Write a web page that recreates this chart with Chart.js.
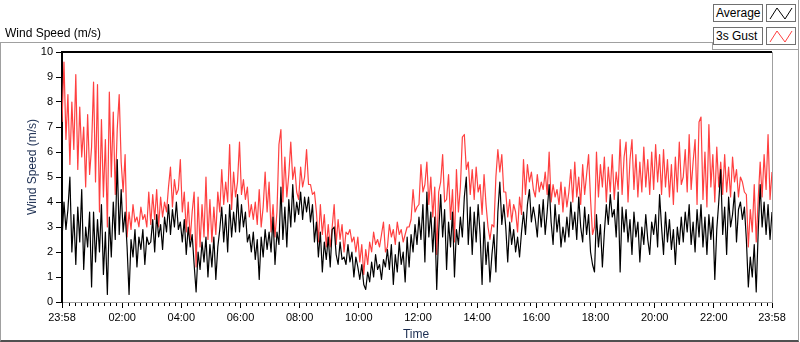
<!DOCTYPE html>
<html>
<head>
<meta charset="utf-8">
<script src="https://cdn.jsdelivr.net/npm/chart.js@4/dist/chart.umd.min.js"></script>
<style>
  html, body { margin: 0; padding: 0; background: #fff; }
  body { width: 800px; height: 342px; position: relative; overflow: hidden; font-family: "Liberation Sans", Arial, sans-serif; color: #000; }
  #chart { position: absolute; left: 0; top: 0; }
  .abs { position: absolute; }
  #frame { left: 0; top: 42px; width: 799px; height: 300px; box-sizing: border-box;
           border-top: 1px solid #a0a0a0; border-left: 1px solid #a0a0a0; border-right: 1px solid #a0a0a0; border-bottom: 2px solid #505050; }
  #legendPanel { left: 712px; top: 0; width: 86px; height: 49px; background: #fff;
                 border-right: 1px solid #a0a0a0; border-bottom: 1px solid #a0a0a0; }
  #legendStep { left: 712px; top: 42px; width: 1px; height: 8px; background: #a0a0a0; }
  .lbox { width: 50px; height: 18px; box-sizing: border-box; border: 1px solid #707070; background: #fff;
          font-size: 12px; line-height: 16px; padding-left: 2px; white-space: nowrap; }
  .ibox { width: 30px; height: 18px; box-sizing: border-box; border: 1px solid #707070; background: #fff; }
  .ibox svg { display: block; }
  #caption { left: 5px; top: 26px; font-size: 12px; line-height: 14px; white-space: nowrap; }
  #yTitle { left: -28px; top: 160px; width: 120px; text-align: center; font-size: 12px; line-height: 14px;
            transform: rotate(-90deg); color: #1a2c50; white-space: nowrap; }
  #xTitle { left: 366px; top: 327px; width: 100px; text-align: center; font-size: 12px; line-height: 14px; color: #1a2c50; }
</style>
</head>
<body>
<div id="frame" class="abs"></div>
<canvas id="chart" width="800" height="342"></canvas>
<div id="legendPanel" class="abs"></div>
<div id="legendStep" class="abs"></div>
<div class="abs lbox" style="left:713px; top:4px;">Average</div>
<div class="abs ibox" style="left:766px; top:4px;"><svg width="28" height="16"><polyline points="3,14 10,3 18,14 25,3" fill="none" stroke="#000" stroke-width="1"/></svg></div>
<div class="abs lbox" style="left:713px; top:27px;">3s Gust</div>
<div class="abs ibox" style="left:766px; top:27px;"><svg width="28" height="16"><polyline points="3,14 10,3 18,14 25,3" fill="none" stroke="#ff4040" stroke-width="1"/></svg></div>
<div id="caption" class="abs">Wind Speed (m/s)</div>
<div id="yTitle" class="abs">Wind Speed (m/s)</div>
<div id="xTitle" class="abs">Time</div>

<script>
// samples every 4 minutes, starting at 23:58 (minute 0) and ending at 23:58 next day (minute 1440)
const STEP_MIN = 4;

// 10-min average wind speed (m/s), one row per hour
const avgSpeed = [
    2.5, 4.0, 2.9, 3.7, 5.0, 2.0, 3.5, 1.5, 3.8, 2.4, 4.5, 1.3, 3.0, 2.2, 3.6,
    0.6, 3.6, 1.6, 3.3, 2.0, 3.9, 1.1, 2.8, 0.3, 3.4, 1.8, 4.0, 2.5, 5.7, 2.7,
    4.5, 2.8, 3.6, 2.2, 0.3, 2.5, 1.8, 2.9, 1.4, 2.6, 2.1, 2.9, 1.5, 2.6, 2.3,
    2.4, 3.3, 2.0, 3.5, 2.6, 3.1, 2.1, 3.4, 2.8, 3.9, 2.7, 3.7, 3.0, 4.0, 2.9,
    3.2, 2.4, 3.3, 1.9, 3.0, 2.2, 2.7, 1.5, 0.4, 2.0, 1.3, 2.4, 1.6, 2.6, 1.0,
    2.3, 1.4, 2.6, 0.9, 2.2, 2.9, 3.8, 2.4, 3.5, 2.0, 3.9, 2.6, 3.6, 2.8, 4.3,
    2.8, 3.9, 3.0, 3.6, 2.4, 2.7, 2.0, 2.8, 1.7, 2.5, 0.9, 2.6, 1.8, 2.9, 2.1,
    2.8, 2.0, 3.4, 1.5, 2.8, 2.3, 4.6, 2.5, 3.8, 2.2, 4.1, 3.0, 4.7, 3.2, 4.0,
    3.5, 4.4, 3.3, 4.2, 3.6, 4.2, 3.2, 3.9, 2.4, 3.2, 1.8, 2.8, 1.2, 2.4, 1.7,
    2.6, 1.4, 2.9, 3.0, 1.9, 1.5, 2.4, 1.7, 1.8, 1.5, 2.3, 1.6, 2.0, 1.0, 1.8,
    1.4, 0.9, 1.5, 0.7, 0.5, 1.2, 0.8, 1.6, 1.0, 1.9, 1.3, 1.5, 0.9, 1.7, 1.4,
    2.1, 1.3, 2.3, 0.7, 1.9, 1.2, 2.4, 1.5, 2.0, 0.8, 2.6, 1.4, 2.7, 2.0, 3.1,
    2.3, 3.4, 2.5, 3.9, 1.6, 4.4, 2.6, 3.6, 2.0, 3.4, 0.5, 2.8, 4.3, 2.6, 3.7,
    1.3, 3.2, 2.2, 3.6, 1.0, 2.9, 2.3, 3.4, 2.6, 4.2, 5.0, 2.3, 3.8, 1.9, 3.6,
    2.4, 3.9, 2.7, 0.7, 3.2, 1.5, 2.4, 0.8, 1.9, 2.7, 1.2, 3.6, 4.8, 3.1, 3.9,
    3.0, 1.6, 3.2, 2.3, 2.9, 2.0, 2.6, 1.8, 2.8, 3.6, 2.7, 3.9, 4.5, 3.2, 3.8,
    3.3, 2.6, 3.9, 3.0, 4.1, 2.7, 3.6, 4.7, 3.2, 2.3, 3.9, 2.8, 3.5, 2.2, 3.0,
    2.4, 3.4, 2.6, 4.0, 2.9, 3.6, 2.5, 4.2, 3.0, 2.4, 3.8, 2.7, 3.5, 2.0, 1.5,
    1.2, 3.5, 2.2, 3.1, 1.4, 2.8, 3.9, 3.1, 4.3, 3.4, 3.7, 2.6, 4.4, 1.2, 3.8,
    2.8, 3.7, 2.4, 3.3, 1.9, 3.6, 2.6, 3.2, 1.6, 3.0, 2.3, 3.5, 2.5, 1.9, 3.2,
    2.7, 3.5, 2.2, 4.3, 3.0, 1.9, 3.6, 2.4, 3.3, 2.1, 2.9, 1.5, 3.0, 2.3, 3.4,
    2.4, 3.6, 2.8, 3.9, 2.3, 3.2, 2.0, 3.7, 2.6, 3.9, 2.2, 3.4, 1.9, 3.5, 2.5,
    3.4, 0.9, 2.9, 4.0, 5.3, 2.7, 3.8, 1.9, 4.2, 3.0, 3.5, 4.4, 2.4, 3.7, 4.0,
    3.3, 3.8, 2.5, 0.6, 1.8, 1.0, 2.3, 0.4, 2.8, 4.7, 3.0, 4.0, 2.7, 3.9, 2.5, 3.6
];

// 3 s gust wind speed (m/s), one row per hour
const gustSpeed = [
    7.2, 9.6, 6.5, 8.3, 5.5, 8.0, 6.1, 9.1, 5.3, 7.8, 5.8, 7.0, 4.6, 7.5, 5.1,
    6.2, 8.8, 4.8, 8.7, 3.6, 7.3, 4.2, 6.5, 3.0, 8.4, 5.0, 7.6, 4.3, 6.9, 8.3,
    5.6, 4.4, 5.9, 2.6, 3.6, 2.9, 3.9, 3.2, 3.4, 3.0, 3.8, 3.3, 3.5, 3.0, 4.4,
    3.1, 4.3, 3.3, 4.5, 3.0, 4.2, 3.4, 4.0, 3.6, 4.6, 5.4, 3.8, 4.9, 4.3, 4.5,
    5.7, 3.6, 4.4, 2.8, 4.0, 2.5, 3.6, 4.4, 1.4, 4.2, 2.2, 3.9, 2.6, 5.0, 2.5,
    4.1, 2.4, 3.8, 2.7, 4.4, 3.6, 5.3, 3.9, 4.8, 4.0, 6.3, 3.7, 5.2, 4.2, 4.8,
    6.4, 4.3, 4.9, 4.1, 4.6, 3.4, 3.9, 3.3, 4.0, 3.1, 4.5, 3.0, 3.8, 5.2, 3.6,
    4.8, 2.8, 3.9, 2.6, 3.6, 6.3, 6.9, 4.0, 5.8, 4.2, 5.1, 6.4, 4.9, 5.4, 4.4,
    4.1, 5.4, 4.6, 5.0, 6.1, 4.7, 4.7, 4.3, 4.4, 3.6, 2.4, 3.9, 2.7, 3.5, 2.2,
    3.1, 2.2, 3.0, 3.9, 2.3, 3.3, 2.5, 3.1, 2.0, 2.8, 2.7, 2.9, 2.4, 2.6, 2.0,
    2.6, 1.6, 2.3, 1.1, 2.1, 1.5, 2.4, 2.0, 2.8, 2.3, 2.5, 2.2, 2.7, 3.2, 2.0,
    2.2, 3.1, 2.6, 2.9, 2.3, 3.2, 2.7, 2.9, 2.4, 2.7, 3.0, 3.0, 3.3, 4.5, 3.6,
    3.8, 3.9, 5.5, 4.4, 4.7, 5.6, 3.9, 5.0, 3.4, 4.6, 1.9, 4.4, 4.8, 5.9, 4.0,
    4.1, 5.1, 3.3, 4.5, 2.4, 5.3, 3.6, 4.6, 6.6, 6.7, 5.3, 5.6, 4.3, 5.3, 4.1,
    5.4, 4.4, 4.7, 3.5, 5.1, 3.9, 3.0, 2.5, 3.1, 3.0, 5.0, 6.1, 5.2, 5.9, 4.4,
    4.4, 3.4, 4.1, 3.2, 3.9, 3.6, 2.8, 4.2, 3.5, 5.7, 4.3, 5.5, 4.8, 5.2, 4.5,
    4.2, 5.1, 4.4, 4.8, 4.5, 5.2, 4.3, 6.0, 4.0, 4.7, 4.2, 4.5, 3.9, 4.8, 3.6,
    4.6, 3.8, 4.4, 5.3, 4.0, 5.6, 4.2, 5.0, 3.9, 5.5, 4.3, 5.1, 5.9, 4.1, 2.7,
    3.0, 6.0, 4.2, 5.5, 4.6, 5.8, 4.0, 5.4, 4.4, 5.9, 4.1, 5.2, 4.5, 6.5, 4.3,
    5.8, 6.4, 4.0, 5.7, 6.5, 4.5, 5.9, 4.2, 5.6, 4.4, 6.2, 4.6, 5.7, 4.3, 6.0,
    4.5, 6.3, 4.8, 5.9, 4.3, 6.1, 4.6, 5.7, 4.2, 5.5, 3.9, 5.8, 4.4, 6.4, 4.7,
    5.0, 6.1, 4.4, 6.7, 4.5, 5.6, 6.5, 3.9, 7.2, 7.4, 4.1, 6.0, 3.8, 7.1, 4.6,
    5.9, 4.0, 6.2, 4.6, 5.6, 4.3, 5.9, 4.4, 5.4, 4.2, 5.8, 4.8, 5.3, 4.2, 5.0,
    4.8, 4.4, 4.3, 2.2, 3.7, 2.8, 4.7, 2.4, 4.1, 5.6, 4.2, 5.9, 4.5, 6.7, 4.1, 5.2
];

// time axis: minutes after 23:58
const tickMinutes = [0, 122, 242, 362, 482, 602, 722, 842, 962, 1082, 1202, 1322, 1440];
const tickLabels = ['23:58', '02:00', '04:00', '06:00', '08:00', '10:00', '12:00',
                    '14:00', '16:00', '18:00', '20:00', '22:00', '23:58'];
const yTicks = [0, 1, 2, 3, 4, 5, 6, 7, 8, 9, 10];

const FONT = { family: 'Liberation Sans', size: 11 };

function toPoints(values) {
    return values.map((v, i) => ({ x: i * STEP_MIN, y: v }));
}

// plot frame and minor time ticks, like the LabVIEW graph
const frameAndMinorTicks = {
    id: 'frameAndMinorTicks',
    afterDraw(chart) {
        const ctx = chart.ctx;
        const a = chart.chartArea;
        const xs = chart.scales.x;
        ctx.save();
        ctx.strokeStyle = '#000';
        ctx.lineWidth = 2;
        ctx.beginPath();
        ctx.moveTo(a.left - 1, a.top);
        ctx.lineTo(a.right, a.top);
        ctx.stroke();
        ctx.strokeStyle = '#a0a0a0';
        ctx.lineWidth = 1;
        ctx.beginPath();
        ctx.moveTo(a.right + 0.5, a.top);
        ctx.lineTo(a.right + 0.5, a.bottom);
        ctx.stroke();
        ctx.strokeStyle = '#000';
        ctx.beginPath();
        for (let m = 14; m < 1440; m += 12) {
            if ((m - 2) % 120 === 0) continue;
            const px = Math.round(xs.getPixelForValue(m)) + 0.5;
            ctx.moveTo(px, a.bottom + 1);
            ctx.lineTo(px, a.bottom + 4);
        }
        ctx.stroke();
        ctx.restore();
    }
};

new Chart(document.getElementById('chart'), {
    type: 'line',
    data: {
        datasets: [
            {
                label: 'Average',
                data: toPoints(avgSpeed),
                borderColor: '#000',
                borderWidth: 1.2,
                borderJoinStyle: 'round',
                pointRadius: 0,
                tension: 0
            },
            {
                label: '3s Gust',
                data: toPoints(gustSpeed),
                borderColor: '#ff4040',
                borderWidth: 1.2,
                borderJoinStyle: 'round',
                pointRadius: 0,
                tension: 0
            }
        ]
    },
    options: {
        responsive: false,
        animation: false,
        devicePixelRatio: 1,
        layout: { padding: { top: 52, right: 28, left: 0, bottom: 0 } },
        plugins: { legend: { display: false }, tooltip: { enabled: false } },
        scales: {
            x: {
                type: 'linear',
                min: 0,
                max: 1440,
                afterBuildTicks: (s) => { s.ticks = tickMinutes.map(v => ({ value: v })); },
                afterFit: (s) => { s.height = 40; },
                ticks: {
                    autoSkip: false,
                    maxRotation: 0,
                    padding: 3,
                    color: '#000',
                    font: FONT,
                    callback: (value, index) => tickLabels[index]
                },
                grid: { drawOnChartArea: false, tickLength: 6, tickColor: '#000' },
                border: { color: '#a0a0a0', width: 1 }
            },
            y: {
                min: 0,
                max: 10,
                afterBuildTicks: (s) => { s.ticks = yTicks.map(v => ({ value: v })); },
                afterFit: (s) => { s.width = 62; },
                ticks: { padding: 3, color: '#000', font: FONT },
                grid: { drawOnChartArea: false, tickLength: 6, tickColor: '#000' },
                border: { color: '#000', width: 2 }
            }
        }
    },
    plugins: [frameAndMinorTicks]
});
</script>
</body>
</html>
